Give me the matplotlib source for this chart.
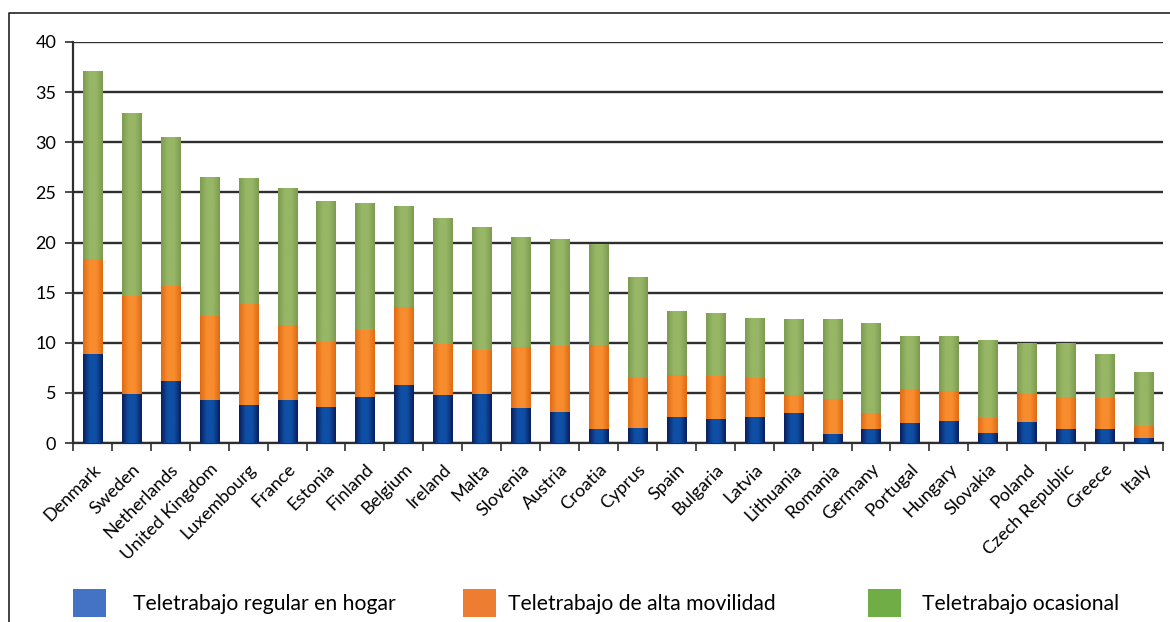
import matplotlib
matplotlib.use('Agg')
import matplotlib.pyplot as plt
import numpy as np
from matplotlib.colors import LinearSegmentedColormap
from matplotlib.patches import Rectangle
from matplotlib.lines import Line2D

plt.rcParams['font.family'] = ['Lato', 'DejaVu Sans']

countries = ['Denmark', 'Sweden', 'Netherlands', 'United Kingdom', 'Luxembourg',
             'France', 'Estonia', 'Finland', 'Belgium', 'Ireland', 'Malta',
             'Slovenia', 'Austria', 'Croatia', 'Cyprus', 'Spain', 'Bulgaria',
             'Latvia', 'Lithuania', 'Romania', 'Germany', 'Portugal', 'Hungary',
             'Slovakia', 'Poland', 'Czech Republic', 'Greece', 'Italy']

# valores de cada tramo (no acumulados)
regular = [8.9, 4.9, 6.2, 4.3, 3.8, 4.3, 3.6, 4.6, 5.8, 4.8, 4.9, 3.5, 3.1, 1.4,
           1.5, 2.6, 2.4, 2.6, 3.0, 0.9, 1.4, 2.0, 2.2, 1.0, 2.1, 1.4, 1.4, 0.5]
movilidad = [9.5, 9.8, 9.5, 8.4, 10.1, 7.5, 6.5, 6.7, 7.8, 5.1, 4.4, 6.1, 6.6, 8.4,
             5.0, 4.2, 4.3, 3.9, 1.8, 3.5, 1.6, 3.4, 3.0, 1.5, 2.9, 3.2, 3.1, 1.2]
ocasional = [18.7, 18.2, 14.8, 13.8, 12.5, 13.6, 14.0, 12.6, 10.0, 12.5, 12.2, 10.9,
             10.6, 10.1, 10.1, 6.4, 6.3, 6.0, 7.6, 8.0, 9.0, 5.3, 5.5, 7.8, 5.0, 5.4,
             4.4, 5.4]

series = ['Teletrabajo regular en hogar', 'Teletrabajo de alta movilidad',
          'Teletrabajo ocasional']
legend_colors = ['#4472C4', '#ED7D31', '#70AD47']
# degradado de las barras: borde, centro
bar_shades = [('#0A1E5A', '#0F4FA6'), ('#E06A12', '#F78D2E'), ('#7C9B50', '#97B766')]

W, H = 1170, 622
fig = plt.figure(figsize=(W / 100, H / 100), dpi=100)
ax = fig.add_axes([73 / W, 1 - 443 / H, (1163 - 73) / W, (443 - 42) / H])

x = np.arange(len(countries))
grad = np.linspace(0, 1, 64).reshape(1, -1)


def shade(bars, c_edge, c_mid):
    cmap = LinearSegmentedColormap.from_list('g', [c_edge, c_mid, c_mid, c_edge])
    for b in bars:
        bx, by = b.get_x(), b.get_y()
        bw, bh = b.get_width(), b.get_height()
        im = ax.imshow(grad, cmap=cmap, aspect='auto', interpolation='bicubic',
                       extent=[bx, bx + bw, by, by + bh], zorder=3)
        im.set_clip_path(b)


bottom = np.zeros(len(countries))
for vals, (ce, cm) in zip([regular, movilidad, ocasional], bar_shades):
    bars = ax.bar(x, vals, width=0.49, bottom=bottom, color=cm, zorder=2, linewidth=0)
    shade(bars, ce, cm)
    bottom += np.array(vals)

ax.set_xlim(-0.5, len(countries) - 0.5)
ax.set_ylim(0, 40)
ax.set_yticks(np.arange(0, 41, 5))
ax.yaxis.grid(True, color='#2e2e2e', linewidth=1.7, zorder=1)
ax.set_axisbelow(True)

ax.set_xticks(x)
ax.set_xticklabels(countries, rotation=45, ha='right', va='top',
                   rotation_mode='anchor', fontsize=13, color='#000000')
ax.set_xticks(np.arange(-0.5, len(countries), 1), minor=True)
ax.tick_params(axis='x', which='major', length=0, pad=13)
ax.tick_params(axis='x', which='minor', length=6, width=1.2, color='#2e2e2e')
ax.tick_params(axis='y', length=6, width=1.2, color='#2e2e2e', labelsize=13,
               labelcolor='#000000', pad=6)

for s in ['top', 'right']:
    ax.spines[s].set_visible(False)
for s in ['left', 'bottom']:
    ax.spines[s].set_color('#2e2e2e')
    ax.spines[s].set_linewidth(1.6)

# leyenda inferior
sq_x = [73, 463, 868]
txt_x = [133, 508, 922]
for name, col, sx, tx in zip(series, legend_colors, sq_x, txt_x):
    fig.patches.append(Rectangle((sx / W, 1 - 617 / H), 33 / W, 28 / H,
                                 transform=fig.transFigure, facecolor=col,
                                 edgecolor='none'))
    fig.text(tx / W, 1 - 604 / H, name, fontsize=15.2, va='center', ha='left',
             color='#000000')

# marco de la figura
fig.lines.append(Line2D([9 / W, 9 / W, 1.0], [0.0, 1 - 13 / H, 1 - 13 / H],
                        transform=fig.transFigure, color='#222222', linewidth=1.2))

fig.savefig('out.png', dpi=100)
